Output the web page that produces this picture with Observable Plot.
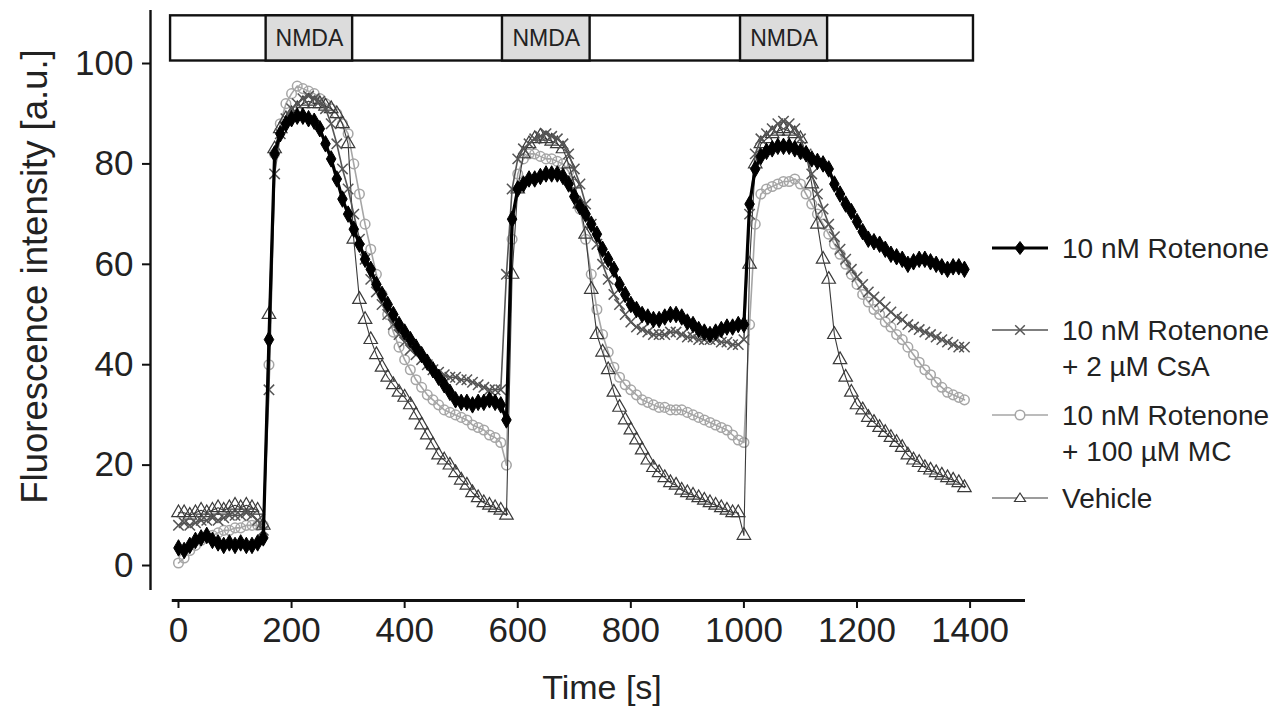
<!DOCTYPE html>
<html>
<head>
<meta charset="utf-8">
<script src="https://cdn.jsdelivr.net/npm/d3@7"></script>
<script src="https://cdn.jsdelivr.net/npm/@observablehq/plot@0.6"></script>
<style>
  html, body { margin: 0; padding: 0; background: #fff; }
  #wrap { position: relative; width: 1281px; height: 711px; font-family: "Liberation Sans", Arial, sans-serif; }
  #legend { position: absolute; left: 0; top: 0; pointer-events: none; }
</style>
</head>
<body>
<div id="wrap"></div>
<script>
// ---- data ----
const time = [0,10,20,30,40,50,60,70,80,90,100,110,120,130,140,150,160,170,180,190,
  200,210,220,230,240,250,260,270,280,290,300,310,320,330,340,350,360,370,380,390,
  400,410,420,430,440,450,460,470,480,490,500,510,520,530,540,550,560,570,580,590,
  600,610,620,630,640,650,660,670,680,690,700,710,720,730,740,750,760,770,780,790,
  800,810,820,830,840,850,860,870,880,890,900,910,920,930,940,950,960,970,980,990,
  1000,1010,1020,1030,1040,1050,1060,1070,1080,1090,1100,1110,1120,1130,1140,1150,1160,1170,1180,1190,
  1200,1210,1220,1230,1240,1250,1260,1270,1280,1290,1300,1310,1320,1330,1340,1350,1360,1370,1380,1390];

const rotenone = [3.5,3,4,5,5.5,6,5,4.5,4,4.5,
  4,4.5,4,4,4.5,5.5,45,82,86,88,
  89,89.5,89.5,89,88.5,87,84,81,77,73,
  70,67,64,61,59,56,54,52,50,48,
  46.5,45,43.5,42,40.5,39,37.5,36,34.5,33,
  32.5,32.5,32,32.5,32.5,33,32.5,32,29,69,
  75,76,77,77,77.5,78,78,78,77.5,76,
  73.5,71.5,70,68,66,63,61,59,56,54,
  52,51,50,49.5,49,49,49.5,50,50,49.5,
  48.5,48,47,46.5,46,46.5,47,47.5,47.5,48,
  48,72,79,81.5,82.5,83,83.5,83.5,83.5,83,
  82.5,82,81,80.5,80,79,76,74,72,70.5,
  68.5,66.5,65,64.5,64,63,62,61.5,61,60,
  60.5,61,61,60.5,60,59.5,59,59.5,59.5,59];

const csa = [8,8.5,8,8.5,9,9,9.5,9,9.5,10,
  10,10,10.5,10,9,7,35,78,86,89,
  91,92,93,93.5,93,92.5,91,88,84,79,
  75,70,65,61,57,54.5,52,50,48,46,
  44.5,43,42,41,40,39,38.5,38,37.5,37.5,
  37,37,36.5,36,35.5,35,35,35,58,75,
  81,83,84,85,85.5,86,85.5,85,84,82,
  79,76,72,68,64,60,57,54,52,50,
  48.5,47.5,47,46.5,46,46,46,46.5,46.5,46,
  45.5,45.5,45,45,45,45,44.5,44.5,44,44,
  45,70,82,85,86,87,88,88.5,88,87,
  85,82,78,74,71,68,65.5,63,61,59,
  57.5,56,54.5,53.5,52.5,51.5,50.5,49.5,49,48,
  47.5,47,46.5,46,45.5,45,44.5,44,43.5,43.5];

const mc = [0.5,1.5,3,4,5,5.5,6,6.5,7,7,
  7.5,7.5,8,8,8,8,40,82,88,92,
  94,95.5,95,94.5,94,93,92,91,90,88,
  86,80,74,68,63,58,54,50,46.5,43.5,
  41,39,37,35.5,34,33,32,31,30.5,30,
  29.5,29,28,27.5,27,26,25.5,24.5,20,65,
  78,81,82,82,81.5,81,81,80.5,80,78.5,
  76,71,65,58,51,46,42.5,39.5,37.5,36,
  35,34,33,32.5,32,31.5,31.5,31,31,31,
  30.5,30,29.5,29,28.5,28,27.5,27,26,25,
  24.5,48,68,74,75,75.5,76,76.5,76.5,77,
  76,74,72,70,68,66,64,62,60,58,
  56,54,52.5,51,50,48.5,47.5,46,45,43.5,
  42,40.5,39,38,36.5,35.5,34.5,34,33.5,33];

const vehicle = [10.5,10.5,10,10.5,11,10.5,11,11.5,11,11.5,
  12,11.5,12,11.5,11,8,50,83,87,89,
  90,91,92,92.5,92,92,91.5,91,90,88,
  84,65,53,49,45,42,39.5,37.5,36,34.5,
  33.5,32,30,28,26,24,22,21,20,18.5,
  17,16,14.5,13.5,12.5,12,11.5,11,10,58,
  75,82,84,85,85.5,85,84.5,84,83,80,
  76,72,66,55,46,42.5,39,34.5,31.5,29,
  27,25,23,21,19.5,18.5,17.5,16.5,16,15,
  14.5,14,13.5,13,12.5,12,11.5,11,10.5,10.5,
  6,60,80,84,85,86,86.5,87,86.5,86,
  85,82,76,68,61,57,46,41,37.5,34.5,
  32,31,29.5,28.5,27.5,26.5,25.5,24.5,23.5,22,
  21,20.5,19.5,19,18.5,18,17.5,17,16.5,15.5];

const seriesNames = ["10 nM Rotenone", "10 nM Rotenone\n+ 2 µM CsA", "10 nM Rotenone\n+ 100 µM MC", "Vehicle"];
const nmdaLabel = "NMDA";
const nmdaStart = [155, 573, 994];
const nmdaEnd = [308, 728, 1148];
const protocolStart = [-14];
const protocolEnd = [1406];
const xTicks = [0, 200, 400, 600, 800, 1000, 1200, 1400];
const yTicks = [0, 20, 40, 60, 80, 100];
const xLabel = "Time [s]";
const yLabel = "Fluorescence intensity [a.u.]";

// ---- styles per series ----
const styles = [
  {stroke: "#000", width: 3.2, symbol: "diamond", fill: "#000", r: 5, sw: 1},
  {stroke: "#555", width: 1.6, symbol: "times", fill: "none", r: 4.8, sw: 1.5},
  {stroke: "#a6a6a6", width: 1.6, symbol: "circle", fill: "none", r: 4.8, sw: 1.5},
  {stroke: "#3a3a3a", width: 1.1, symbol: "triangle", fill: "none", r: 5, sw: 1.2}
];
const seriesValues = [rotenone, csa, mc, vehicle];
const toRows = (vals) => time.map((t, i) => ({t, v: vals[i]}));

const font = "'Liberation Sans', Arial, sans-serif";
const xDomain = [-49.5, 1498];
const yDomain = [-6.97, 110.56];

const drawOrder = [2, 3, 1, 0];
const seriesMarks = [];
for (const k of drawOrder) {
  const s = styles[k];
  const rows = toRows(seriesValues[k]);
  seriesMarks.push(Plot.line(rows, {x: "t", y: "v", stroke: s.stroke, strokeWidth: s.width}));
  seriesMarks.push(Plot.dot(rows, {x: "t", y: "v", symbol: () => s.symbol, r: s.r,
    stroke: s.fill === "none" ? s.stroke : s.fill, fill: s.fill, strokeWidth: s.sw}));
}

const nmdaRows = nmdaStart.map((a, i) => ({a, b: nmdaEnd[i], mid: (a + nmdaEnd[i]) / 2}));

const chart = Plot.plot({
  width: 1281,
  height: 711,
  marginLeft: 150,
  marginRight: 256,
  marginTop: 10,
  marginBottom: 111,
  style: {fontFamily: font, color: "#222", background: "#fff"},
  x: {domain: xDomain, axis: null},
  y: {domain: yDomain, axis: null},
  marks: [
    // protocol bar
    Plot.rect(protocolStart, {x1: d => d, x2: (d, i) => protocolEnd[i], y1: 100.5, y2: 109.5,
      fill: "#fff", stroke: "#111", strokeWidth: 2.4}),
    Plot.rect(nmdaRows, {x1: "a", x2: "b", y1: 100.5, y2: 109.5, fill: "#dcdcdc", stroke: "#111", strokeWidth: 2.4}),
    Plot.text(nmdaRows, {x: "mid", y: 105, text: () => nmdaLabel, fontSize: 23, fill: "#222", letterSpacing: "-1px"}),
    // axis lines
    Plot.ruleY([yDomain[0]], {x1: -11, x2: 1498, stroke: "#111", strokeWidth: 3}),
    Plot.ruleX([xDomain[0]], {y1: -5, y2: 110.56, stroke: "#111", strokeWidth: 2.4}),
    Plot.axisX({ticks: xTicks, tickSize: 8, tickPadding: 9, fontSize: 35, label: null,
      strokeWidth: 2, stroke: "#111", fill: "#222", tickFormat: d => String(d)}),
    Plot.axisY({ticks: yTicks, tickSize: 8, tickPadding: 9, fontSize: 35, label: null,
      strokeWidth: 2, stroke: "#111", fill: "#222", tickFormat: d => String(d)}),
    Plot.text([xLabel], {frameAnchor: "bottom", dx: 14, dy: 88, fontSize: 34, fill: "#222", lineAnchor: "middle", textAnchor: "middle"}),
    Plot.text([yLabel], {frameAnchor: "left", dx: -115, dy: -29, rotate: -90, fontSize: 36.5, fill: "#222", lineAnchor: "middle", textAnchor: "middle"}),
    ...seriesMarks
  ]
});
document.getElementById("wrap").appendChild(chart);

// ---- legend (right side) ----
const ns = "http://www.w3.org/2000/svg";
const lg = document.createElementNS(ns, "svg");
lg.setAttribute("id", "legend");
lg.setAttribute("width", 1281);
lg.setAttribute("height", 711);
const legendY = [248, 330, 415, 498];
const lineH = 36;
function el(tag, attrs, parent) {
  const e = document.createElementNS(ns, tag);
  for (const k in attrs) e.setAttribute(k, attrs[k]);
  parent.appendChild(e);
  return e;
}
seriesNames.forEach((name, i) => {
  const s = styles[i];
  const y = legendY[i];
  el("line", {x1: 992, x2: 1048, y1: y, y2: y, stroke: s.stroke, "stroke-width": s.width}, lg);
  const cx = 1020, r = s.r;
  const stroke = s.fill === "none" ? s.stroke : s.fill;
  if (s.symbol === "diamond") {
    el("path", {d: `M${cx},${y - r * 1.3}L${cx + r},${y}L${cx},${y + r * 1.3}L${cx - r},${y}Z`, fill: s.fill, stroke}, lg);
  } else if (s.symbol === "times") {
    el("path", {d: `M${cx - r},${y - r}L${cx + r},${y + r}M${cx - r},${y + r}L${cx + r},${y - r}`, fill: "none", stroke, "stroke-width": s.sw}, lg);
  } else if (s.symbol === "circle") {
    el("circle", {cx, cy: y, r, fill: "#fff", stroke, "stroke-width": s.sw}, lg);
  } else {
    el("path", {d: `M${cx},${y - r}L${cx + r * 1.1},${y + r * 0.7}L${cx - r * 1.1},${y + r * 0.7}Z`, fill: "#fff", stroke, "stroke-width": s.sw}, lg);
  }
  name.split("\n").forEach((ln, j) => {
    const t = el("text", {x: 1062, y: y + j * lineH, "dominant-baseline": "central",
      "font-size": 28, "font-family": font, fill: "#222"}, lg);
    t.textContent = ln;
  });
});
document.getElementById("wrap").appendChild(lg);
</script>
</body>
</html>
